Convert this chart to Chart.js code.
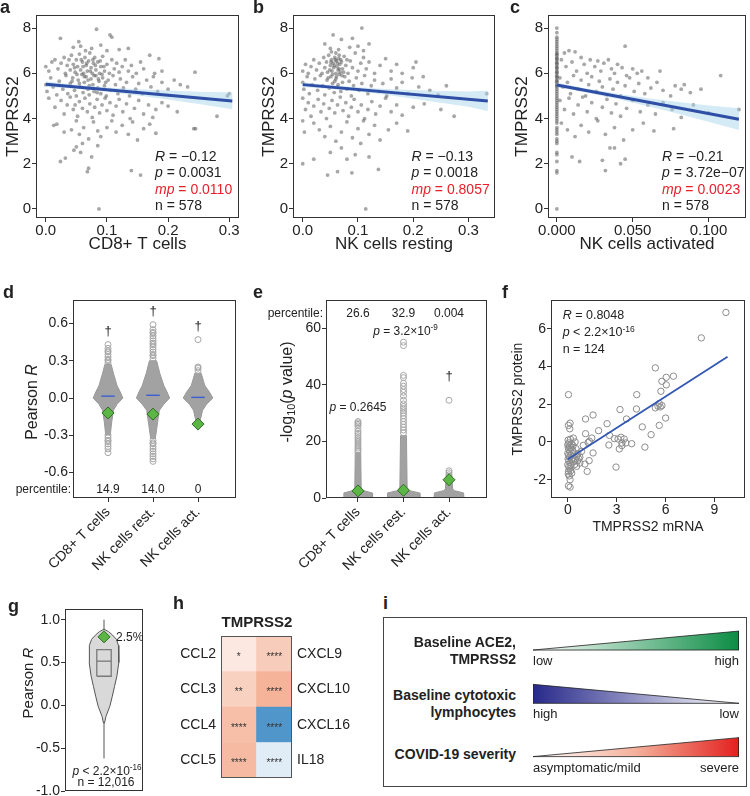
<!DOCTYPE html>
<html>
<head>
<meta charset="utf-8">
<title>TMPRSS2 and cytotoxic lymphocytes</title>
<script src="https://cdn.jsdelivr.net/npm/chart.js@4.4.1/dist/chart.umd.min.js"></script>
<style>
  html, body { margin: 0; padding: 0; }
  body { width: 750px; height: 796px; position: relative; overflow: hidden; background: #fff;
         font-family: "Liberation Sans", Arial, Helvetica, sans-serif; color: #222; }
  canvas { position: absolute; }
  .note { position: absolute; line-height: 1; white-space: nowrap; }
  .note sup, .note sub { font-size: 68%; position: relative; line-height: 0; vertical-align: baseline; }
  .note sup { top: -0.55em; }
  .note sub { top: 0.3em; }
  .boxI { position: absolute; left: 383px; top: 617px; width: 364px; height: 170px; border: 1px solid #444; box-sizing: border-box; }
</style>
</head>
<body>
<div class="boxI"></div>
<canvas id="chartA" width="245" height="256" style="left:0px;top:0px"></canvas>
<canvas id="chartB" width="245" height="256" style="left:256px;top:0px"></canvas>
<canvas id="chartC" width="241" height="256" style="left:509px;top:0px"></canvas>
<canvas id="chartD" width="245" height="292" style="left:0px;top:285px"></canvas>
<canvas id="chartE" width="245" height="292" style="left:250px;top:285px"></canvas>
<canvas id="chartF" width="245" height="251" style="left:505px;top:285px"></canvas>
<canvas id="chartG" width="150" height="208" style="left:0px;top:596px"></canvas>
<canvas id="chartH" width="200" height="175" style="left:160px;top:620px"></canvas>
<canvas id="chartI" width="206" height="170" style="left:533px;top:617px"></canvas>
<script>
// ==========================================================================
// DATA
// ==========================================================================

// a-c : TMPRSS2 vs immune cell fractions
const statR = ["−0.12", "−0.13", "−0.21"];
const statP = ["0.0031", "0.0018", "3.72e−07"];
const statMp = ["0.0110", "0.8057", "0.0023"];
const statN = ["578", "578", "578"];

const aPts = [
  [0.083,7.95],[0.024,7.55],[0.105,7.7],[0.108,7.6],[0.054,7.4],[0.057,7.2],[0.045,7.15],[0.075,7.1],[0.09,7.25],[0.12,7.05],[0.135,7.1],[0.065,7.0],[0.1,7.0],
  [0.01,6.5],[0.0,6.3],[0.005,6.1],[0.015,6.6],[0.02,6.2],[0.025,6.45],[0.03,6.7],[0.032,6.0],[0.035,6.35],[0.038,6.6],[0.04,6.15],[0.042,6.8],[0.045,6.4],[0.048,6.05],[0.05,6.6],[0.052,6.3],[0.055,6.85],[0.057,6.15],[0.06,6.5],[0.062,6.0],[0.064,6.7],[0.066,6.35],[0.068,6.1],[0.07,6.55],[0.072,6.9],[0.074,6.25],[0.076,6.0],[0.078,6.45],[0.08,6.7],[0.082,6.15],[0.085,6.5],[0.088,6.0],[0.09,6.3],[0.093,6.75],[0.096,6.1],[0.1,6.4],[0.104,6.0],[0.108,6.6],[0.112,6.2],[0.116,6.45],[0.12,6.05],[0.125,6.3],[0.13,6.6],[0.135,6.1],[0.14,6.35],[0.148,6.0],[0.155,6.5],[0.16,6.2],[0.17,6.8],[0.178,6.0],[0.185,6.65],[0.19,6.1],[0.244,6.05],
  [0.047,6.25],[0.051,5.95],[0.058,6.6],[0.061,6.3],[0.063,5.85],[0.067,6.45],[0.069,5.7],[0.073,6.1],[0.077,6.6],[0.079,5.9],[0.081,6.35],[0.086,5.75],[0.089,6.55],[0.092,5.95],[0.095,6.3],[0.098,5.6],[0.043,5.65],[0.055,5.55],[0.071,5.45],[0.084,5.15],
  [0.0,5.5],[0.002,5.2],[0.008,5.8],[0.012,5.4],[0.018,5.05],[0.022,5.65],[0.028,5.3],[0.033,5.9],[0.036,5.1],[0.04,5.55],[0.044,5.8],[0.047,5.25],[0.05,5.0],[0.053,5.7],[0.056,5.4],[0.059,5.95],[0.061,5.15],[0.063,5.6],[0.066,5.85],[0.069,5.3],[0.071,5.05],[0.074,5.75],[0.077,5.5],[0.079,5.2],[0.082,5.9],[0.085,5.35],[0.087,5.65],[0.09,5.1],[0.093,5.8],[0.096,5.45],[0.099,5.0],[0.102,5.7],[0.106,5.25],[0.11,5.9],[0.114,5.5],[0.118,5.1],[0.122,5.75],[0.127,5.35],[0.132,5.6],[0.137,5.0],[0.142,5.85],[0.147,5.3],[0.152,5.55],[0.158,5.1],[0.165,5.7],[0.172,5.4],[0.176,5.85],[0.183,5.2],[0.19,5.6],[0.2,5.3],[0.21,5.7],[0.22,5.5],[0.232,5.4],[0.3,5.1],[0.297,5.0],
  [0.005,4.9],[0.015,4.5],[0.025,4.8],[0.03,4.2],[0.035,4.6],[0.04,4.95],[0.045,4.4],[0.048,4.6],[0.052,4.1],[0.055,4.75],[0.06,4.45],[0.064,4.9],[0.068,4.3],[0.072,4.65],[0.076,4.05],[0.08,4.5],[0.084,4.85],[0.088,4.25],[0.092,4.6],[0.097,4.9],[0.1,4.35],[0.105,4.7],[0.11,4.15],[0.115,4.55],[0.12,4.85],[0.126,4.3],[0.132,4.65],[0.138,4.0],[0.145,4.45],[0.152,4.8],[0.16,4.2],[0.168,4.6],[0.175,4.05],[0.18,4.4],[0.19,4.7],[0.2,4.55],[0.215,4.3],[0.28,4.1],
  [0.013,3.7],[0.018,3.75],[0.03,3.4],[0.042,3.5],[0.05,3.9],[0.055,3.3],[0.062,3.6],[0.07,3.1],[0.078,3.85],[0.085,3.45],[0.09,3.2],[0.1,3.6],[0.108,3.9],[0.115,3.4],[0.125,3.7],[0.135,3.3],[0.142,3.85],[0.15,3.05],[0.16,3.55],[0.17,3.75],[0.18,3.35],[0.242,3.55],[0.245,3.55],
  [0.024,2.1],[0.032,2.25],[0.046,2.6],[0.05,2.75],[0.057,2.5],[0.06,2.9],[0.068,1.65],[0.07,1.8],[0.075,2.3],[0.085,2.8],[0.14,1.7],[0.155,1.5],[0.087,0.0]
];
const aFit = [[0, 5.52], [0.305, 4.78]];
const aCiX = [0, 0.05, 0.1, 0.15, 0.2, 0.25, 0.305];
const aCiLo = [5.40, 5.32, 5.19, 5.02, 4.84, 4.64, 4.41];
const aCiHi = [5.64, 5.48, 5.37, 5.30, 5.24, 5.18, 5.15];

const bPts = [
  [0.107,8.0],[0.055,7.7],[0.07,7.5],[0.09,7.55],[0.04,7.3],[0.1,7.2],[0.085,7.15],[0.12,7.3],[0.11,7.0],[0.05,7.1],[0.065,7.05],
  [0.0,6.1],[0.005,6.4],[0.01,6.0],[0.015,6.3],[0.02,6.6],[0.025,6.15],[0.03,6.45],[0.035,6.0],[0.038,6.7],[0.04,6.25],[0.043,6.5],[0.045,6.05],[0.047,6.8],[0.05,6.35],[0.052,6.6],[0.053,6.1],[0.055,6.45],[0.056,6.25],[0.058,6.7],[0.06,6.0],[0.061,6.55],[0.062,6.3],[0.064,6.15],[0.065,6.65],[0.067,6.4],[0.068,6.05],[0.07,6.5],[0.072,6.2],[0.075,6.75],[0.078,6.35],[0.082,6.0],[0.086,6.55],[0.09,6.25],[0.095,6.9],[0.1,6.1],[0.105,6.45],[0.11,6.7],[0.115,6.2],[0.12,6.5],[0.13,6.0],[0.14,6.35],[0.15,6.65],[0.16,6.1],[0.17,6.4],[0.18,6.0],[0.2,6.25],[0.205,6.5],[0.06,6.9],[0.052,6.95],[0.066,6.8],
  [0.049,6.15],[0.051,6.5],[0.054,5.95],[0.057,6.35],[0.059,6.6],[0.061,5.85],[0.063,6.45],[0.066,6.2],[0.069,6.6],[0.071,5.9],[0.046,5.8],[0.058,5.65],[0.064,5.5],[0.074,6.05],[0.08,6.6],
  [0.0,5.6],[0.002,5.3],[0.008,5.85],[0.012,5.1],[0.017,5.5],[0.022,5.75],[0.027,5.25],[0.032,5.9],[0.036,5.45],[0.04,5.05],[0.044,5.7],[0.048,5.35],[0.051,5.85],[0.054,5.55],[0.057,5.15],[0.06,5.75],[0.063,5.4],[0.066,5.95],[0.069,5.2],[0.072,5.6],[0.076,5.85],[0.08,5.3],[0.084,5.65],[0.088,5.0],[0.092,5.45],[0.097,5.8],[0.102,5.25],[0.107,5.55],[0.112,5.9],[0.118,5.1],[0.124,5.45],[0.13,5.7],[0.138,5.2],[0.145,5.55],[0.152,5.0],[0.16,5.75],[0.17,5.35],[0.18,5.6],[0.19,5.1],[0.198,5.8],[0.21,5.4],[0.218,5.85],[0.23,5.25],[0.26,5.45],[0.333,5.1],[0.245,5.05],
  [0.0,4.9],[0.005,4.4],[0.01,4.7],[0.015,4.1],[0.02,4.55],[0.028,4.85],[0.033,4.3],[0.038,4.65],[0.043,4.0],[0.048,4.45],[0.053,4.8],[0.058,4.25],[0.063,4.6],[0.068,4.95],[0.073,4.35],[0.078,4.7],[0.083,4.1],[0.088,4.5],[0.093,4.85],[0.1,4.3],[0.106,4.6],[0.112,4.0],[0.118,4.4],[0.125,4.75],[0.132,4.2],[0.14,4.55],[0.15,4.9],[0.16,4.3],[0.17,4.6],[0.18,4.15],[0.2,4.5],[0.22,4.65],[0.274,4.1],[0.25,4.4],
  [0.0,3.9],[0.003,3.4],[0.02,3.8],[0.03,3.5],[0.04,3.2],[0.05,3.65],[0.06,3.0],[0.07,3.4],[0.08,3.85],[0.09,3.15],[0.1,3.55],[0.11,3.9],[0.12,3.3],[0.13,3.7],[0.14,3.05],[0.155,3.5],[0.17,3.8],[0.19,3.45],
  [0.0,2.0],[0.02,2.2],[0.045,1.5],[0.05,2.5],[0.063,1.65],[0.07,2.7],[0.08,2.2],[0.089,1.6],[0.095,2.4],[0.105,2.9],[0.137,1.75],[0.12,2.3],[0.114,0.0]
];
const bFit = [[0, 5.50], [0.335, 4.78]];
const bCiX = [0, 0.05, 0.1, 0.15, 0.2, 0.25, 0.3, 0.335];
const bCiLo = [5.39, 5.31, 5.20, 5.05, 4.88, 4.70, 4.52, 4.33];
const bCiHi = [5.61, 5.47, 5.38, 5.31, 5.26, 5.22, 5.20, 5.23];

const cPts = [
  [0,8.0],[0,7.8],[0,7.6],[0,7.5],[0,7.4],[0,7.3],[0,7.2],[0,7.1],[0,7.0],[0,6.9],[0,6.85],[0,6.8],[0,6.7],[0,6.65],[0,6.6],[0,6.5],[0,6.45],[0,6.4],[0,6.3],[0,6.25],[0,6.2],[0,6.1],[0,6.05],[0,6.0],[0,5.9],[0,5.85],[0,5.8],[0,5.7],[0,5.65],[0,5.6],[0,5.5],[0,5.45],[0,5.4],[0,5.3],[0,5.2],[0,5.1],[0,5.0],[0,4.9],[0,4.8],[0,4.7],[0,4.6],[0,4.5],[0,4.4],[0,4.3],[0,4.2],[0,4.1],[0,4.0],[0,3.9],[0,3.8],[0,3.6],[0,3.5],[0,3.4],[0,3.3],[0,3.1],[0,3.0],[0,2.9],[0,2.5],[0,2.4],[0,2.1],[0,1.7],[0,1.6],[0,0.0],
  [0.045,7.2],[0.005,6.9],[0.008,7.0],[0.012,6.95],[0.003,6.6],[0.006,6.3],[0.01,6.5],[0.013,6.1],[0.016,6.7],[0.018,6.4],[0.02,6.0],[0.022,6.6],[0.025,6.3],[0.027,6.55],[0.029,6.1],[0.031,6.45],[0.034,6.6],[0.036,6.2],[0.038,6.0],[0.04,6.4],[0.043,6.25],[0.046,5.9],[0.05,6.2],[0.053,6.0],[0.056,6.1],[0.06,5.8],[0.068,6.1],[0.082,5.3],[0.108,5.9],[0.084,5.5],
  [0.002,5.8],[0.004,5.4],[0.007,5.6],[0.009,5.1],[0.011,5.9],[0.014,5.3],[0.016,5.7],[0.019,5.0],[0.021,5.5],[0.023,5.85],[0.026,5.2],[0.028,5.65],[0.03,5.4],[0.033,5.05],[0.035,5.75],[0.037,5.3],[0.04,5.6],[0.042,5.0],[0.045,5.45],[0.048,5.8],[0.051,5.2],[0.054,5.55],[0.058,5.1],[0.062,5.35],[0.066,5.6],[0.07,5.25],[0.075,5.0],[0.078,5.45],[0.088,5.15],[0.095,5.3],
  [0.002,4.8],[0.005,4.4],[0.008,4.9],[0.011,4.2],[0.014,4.6],[0.017,4.95],[0.02,4.3],[0.023,4.7],[0.026,4.0],[0.03,4.5],[0.033,4.85],[0.036,4.25],[0.039,4.65],[0.042,4.1],[0.046,4.45],[0.05,4.8],[0.055,4.3],[0.06,4.6],[0.065,4.2],[0.07,4.7],[0.076,4.4],[0.082,4.05],[0.09,4.6],[0.1,4.25],[0.12,4.4],
  [0.003,3.8],[0.007,3.5],[0.012,3.2],[0.016,3.7],[0.021,3.4],[0.027,3.9],[0.032,3.3],[0.038,3.6],[0.044,3.05],[0.05,3.5],[0.057,3.8],[0.064,3.45],[0.077,3.55],
  [0.01,2.3],[0.015,2.1],[0.03,2.15],[0.032,1.7],[0.035,2.7],[0.038,2.7],[0.042,2.0],[0.045,2.2]
];
const cFit = [[0, 5.48], [0.12, 3.97]];
const cCiX = [0, 0.02, 0.04, 0.06, 0.08, 0.1, 0.12];
const cCiLo = [5.38, 5.14, 4.86, 4.54, 4.21, 3.86, 3.49];
const cCiHi = [5.58, 5.32, 5.10, 4.90, 4.73, 4.58, 4.45];

// d-e : permutation distributions per cell type
const cellTypes = ["CD8+ T cells", "NK cells rest.", "NK cells act."];
const dObserved = [-0.12, -0.13, -0.21];
const dMedian = [0.015, 0.022, 0.005];
const dPercentile = ["14.9", "14.0", "0"];
const dCoreY = [
  [-0.3, -0.2, -0.1, -0.05, 0, 0.05, 0.1, 0.2, 0.27],
  [-0.33, -0.2, -0.1, -0.05, 0, 0.05, 0.1, 0.2, 0.3],
  [-0.18, -0.1, -0.05, 0, 0.05, 0.1, 0.2]
];
const dCoreW = [
  [0.05, 0.08, 0.12, 0.2, 0.33, 0.27, 0.2, 0.12, 0.07],
  [0.05, 0.1, 0.14, 0.24, 0.37, 0.31, 0.24, 0.15, 0.08],
  [0.05, 0.1, 0.19, 0.33, 0.25, 0.15, 0.07]
];
const dTails = [
  [0.28, 0.3, 0.31, 0.33, 0.35, 0.37, 0.38, 0.4, 0.43, -0.3, -0.32, -0.34, -0.35, -0.37, -0.39, -0.41, -0.44],
  [0.32, 0.34, 0.35, 0.37, 0.39, 0.41, 0.43, 0.44, 0.46, 0.48, 0.5, 0.52, 0.53, 0.55, 0.59, -0.34, -0.36, -0.37, -0.39, -0.41, -0.43, -0.45, -0.47, -0.49, -0.51],
  [0.47, 0.25, 0.24, 0.22, -0.19]
];

const eObserved = [2.51, 2.74, 6.43];
const ePercentile = ["26.6", "32.9", "0.004"];
const eCoreY = [
  [0, 1.8, 2.6, 3.5, 16],
  [0, 1.8, 2.6, 3.5, 22],
  [0, 1.8, 2.6, 3.2, 7]
];
const eCoreW = [
  [0.32, 0.31, 0.12, 0.07, 0.06],
  [0.36, 0.35, 0.13, 0.08, 0.065],
  [0.33, 0.32, 0.12, 0.08, 0.065]
];
const eTails = [
  [16.4, 17.0, 17.6, 18.3, 19.0, 19.8, 20.5, 21.2, 22.0, 22.8, 23.5, 24.5, 25.5, 26.0, 26.5, 27.0],
  [23, 24, 25, 26, 27, 28, 29, 30, 30.8, 31.6, 32.3, 33.2, 34.5, 36.0, 37.3, 38.3, 39.5, 40.5, 42.5, 43.3, 53.8, 55.0],
  [7.6, 8.2, 8.9, 9.6, 34.5]
];

// f : protein vs mRNA
const fPts = [
  [9.7,6.87],[8.19,5.52],[5.37,3.93],[6.48,3.49],[6.04,3.43],[5.77,3.22],[6.04,3.03],[5.71,2.69],[4.23,2.51],[4.21,1.75],[3.2,1.72],[3.6,1.22],[5.37,1.81],[5.53,1.9],[5.67,1.86],[5.77,1.93],[5.61,2.04],[6.0,1.27],[5.61,0.88],[4.57,0.8],[5.11,0.39],[4.73,-0.27],[3.92,-0.09],[3.26,0.25],[3.46,0.16],[3.32,-0.05],[3.08,0.16],[2.86,0.18],[3.56,-0.05],[3.16,-0.37],[3.32,-0.19],[2.96,-1.33],[2.41,0.97],[2.56,0.35],[2.52,-0.16],[1.89,0.6],[1.55,1.43],[1.09,1.22],[1.09,0.44],[1.47,0.21],[1.33,0.04],[1.25,-0.02],[0.95,-0.18],[1.55,-0.58],[1.19,-1.56],[1.31,-0.99],[1.05,-1.17],[0.74,-1.12],[0.54,-1.29],[0.04,2.51],[0.04,0.88],[0.14,1.0],[0.04,-2.32],[0.14,-2.39],[0.14,-2.0],[0.24,-1.65],[0.04,-1.56],[0.18,-1.52],[0.38,-0.58],[0.54,-0.76],[0.84,-0.5],[0.34,0.21],[0.24,-0.94],[0.62,-0.62],[0.74,-0.8],
  [0.02,0.1],[0.06,-0.05],[0.1,-0.2],[0.03,-0.3],[0.08,-0.4],[0.12,-0.5],[0.0,-0.6],[0.05,-0.7],[0.1,-0.8],[0.02,-0.9],[0.07,-1.0],[0.15,-1.1],[0.0,-1.2],[0.06,-1.3],[0.11,-1.4],[0.03,-1.7],[0.09,-1.8],[0.2,-0.3],[0.25,-0.1],[0.3,-0.45],[0.28,-0.85],[0.35,-1.05],[0.42,-1.2],[0.45,-0.95],[0.5,-0.35],[0.6,-1.0],[0.68,-0.9],[0.2,-1.25],[0.16,0.15],[0.12,0.7],[0.2,-0.7],[0.32,-0.2],[0.45,0.0],[0.0,-0.15]
];
const fFit = [[0, -0.92], [9.8, 4.52]];

// g : gene-wise protein/mRNA correlation
const gViolinY = [-0.21, -0.13, -0.01, 0.1, 0.22, 0.34, 0.5, 0.6, 0.7, 0.77, 0.82, 0.86, 0.89];
const gViolinW = [0.012, 0.05, 0.15, 0.21, 0.27, 0.33, 0.38, 0.38, 0.37, 0.32, 0.22, 0.12, 0];
const gBox = [0.34, 0.516, 0.65];
const gWhisker = [-0.62, 1.0];
const gObserved = 0.80;

// h : chemokine correlations with TMPRSS2
const hLeft = ["CCL2", "CCL3", "CCL4", "CCL5"];
const hRight = ["CXCL9", "CXCL10", "CXCL16", "IL18"];
const hLeftR = [0.10, 0.20, 0.28, 0.30];
const hRightR = [0.22, 0.33, -0.70, -0.12];
const hLeftSig = ["*", "**", "****", "****"];
const hRightSig = ["****", "****", "****", "****"];

// i : model schematic
const iRows = [["Baseline ACE2,", "TMPRSS2"], ["Baseline cytotoxic", "lymphocytes"], ["COVID-19 severity"]];
const iStart = [0, 1, 0];
const iEnd = [1, 0, 1];
const iLowLabel = ["low", "high", "asymptomatic/mild"];
const iHighLabel = ["high", "low", "severe"];

// ==========================================================================
// common settings
// ==========================================================================
const BLUE = "#2f4ea5";
const RED = "#e8202a";
const GREEN = "#5cb646";
const FONT = '"Liberation Sans", Arial, Helvetica, sans-serif';

Chart.defaults.font.family = FONT;
Chart.defaults.color = "#222";
Chart.defaults.animation = false;
Chart.defaults.responsive = false;
Chart.defaults.events = [];
Chart.defaults.plugins.legend.display = false;
Chart.defaults.plugins.tooltip.enabled = false;

// box around the plotting area
const frame = {
  id: "frame",
  afterDraw(chart, args, opts) {
    const { ctx, chartArea: a } = chart;
    ctx.save();
    ctx.strokeStyle = opts.color || "#333";
    ctx.lineWidth = 1;
    ctx.strokeRect(Math.round(a.left) + 0.5, Math.round(a.top) + 0.5,
      Math.round(a.right - a.left) - 1, Math.round(a.bottom - a.top) - 1);
    ctx.restore();
  }
};

function axis(o) {
  return {
    type: "linear",
    min: o.min,
    max: o.max,
    afterBuildTicks: (s) => { s.ticks = o.ticks.map((v) => ({ value: v })); },
    afterFit: (s) => {
      if (o.w != null) s.width = o.w;
      if (o.h != null) s.height = o.h;
    },
    ticks: {
      callback: o.fmt || ((v) => String(v)),
      font: { size: o.size || 14 },
      color: "#222",
      padding: o.tickPad != null ? o.tickPad : 1,
      minRotation: o.rot || 0,
      maxRotation: o.rot || 0,
      autoSkip: false
    },
    grid: { drawOnChartArea: false, drawTicks: true, tickLength: 4, color: "#333", lineWidth: 1 },
    border: { display: false },
    title: o.title
      ? { display: true, text: o.title, font: { size: o.tsize || 17 }, color: "#222", padding: o.tpad || { top: 0, bottom: 0 } }
      : { display: false }
  };
}

const xy = (arr) => arr.map(([x, y]) => ({ x, y }));

function outline(cx, ys, ws) {
  const left = ys.map((y, i) => ({ x: cx - ws[i], y }));
  const right = ys.map((y, i) => ({ x: cx + ws[i], y })).reverse();
  return left.concat(right);
}

function note(x, y, html, o = {}) {
  const el = document.createElement("div");
  el.className = "note";
  el.innerHTML = html;
  const size = o.size || 14;
  el.style.fontSize = size + "px";
  el.style.left = x + "px";
  el.style.top = (y - 0.85 * size) + "px";
  if (o.color) el.style.color = o.color;
  if (o.bold) el.style.fontWeight = "bold";
  const shift = o.align === "right" ? "-100%" : o.align === "center" ? "-50%" : "0";
  el.style.transform = "translateX(" + shift + ")";
  document.body.appendChild(el);
}

function vnote(cx, cy, html, size) {
  const el = document.createElement("div");
  el.className = "note";
  el.innerHTML = html;
  el.style.fontSize = size + "px";
  el.style.left = cx + "px";
  el.style.top = cy + "px";
  el.style.transform = "translate(-50%,-50%) rotate(-90deg)";
  document.body.appendChild(el);
}

// page position of a data point of a chart
function at(chart, xv, yv) {
  const c = chart.canvas;
  return [c.offsetLeft + chart.scales.x.getPixelForValue(xv), c.offsetTop + chart.scales.y.getPixelForValue(yv)];
}

// ==========================================================================
// a, b, c : scatter with regression line and confidence band
// ==========================================================================
function scatterPanel(id, pts, fit, ciX, ciLo, ciHi, cfg) {
  const band = ciX.map((x, i) => ({ x, y: ciHi[i] }))
    .concat(ciX.map((x, i) => ({ x, y: ciLo[i] })).reverse());
  return new Chart(document.getElementById(id), {
    type: "scatter",
    data: {
      datasets: [
        { type: "line", data: xy(fit), borderColor: BLUE, borderWidth: 3, pointRadius: 0 },
        { type: "line", data: band, fill: "shape", backgroundColor: "rgba(170,214,236,0.5)",
          borderColor: "rgba(0,0,0,0)", borderWidth: 0, pointRadius: 0 },
        { data: xy(pts), pointRadius: 1.9, backgroundColor: "rgba(80,80,80,0.5)", borderWidth: 0 }
      ]
    },
    options: {
      layout: { padding: { left: 0, top: 15, right: cfg.padR, bottom: 0 } },
      scales: {
        x: axis({ min: cfg.xr[0], max: cfg.xr[1], ticks: cfg.xTicks, fmt: cfg.xFmt, h: 38, size: 15,
          tickPad: 0, title: cfg.xTitle, tpad: { top: 0, bottom: 1 } }),
        y: axis({ min: -0.4, max: 8.58, ticks: [0, 2, 4, 6, 8], w: cfg.yW, size: 15,
          title: "TMPRSS2", tpad: { top: 3, bottom: 0 } })
      }
    },
    plugins: [frame]
  });
}

scatterPanel("chartA", aPts, aFit, aCiX, aCiLo, aCiHi, {
  xr: [-0.016, 0.316], xTicks: [0, 0.1, 0.2, 0.3], xFmt: (v) => v.toFixed(1),
  xTitle: "CD8+ T cells", yW: 36, padR: 6
});
scatterPanel("chartB", bPts, bFit, bCiX, bCiLo, bCiHi, {
  xr: [-0.0176, 0.348], xTicks: [0, 0.1, 0.2, 0.3], xFmt: (v) => v.toFixed(1),
  xTitle: "NK cells resting", yW: 37, padR: 6
});
scatterPanel("chartC", cPts, cFit, cCiX, cCiLo, cCiHi, {
  xr: [-0.00584, 0.1247], xTicks: [0, 0.05, 0.1], xFmt: (v) => v.toFixed(3),
  xTitle: "NK cells activated", yW: 39, padR: 1
});

[155, 411.5, 662].forEach((x, i) => {
  note(x, 160.5, "<i>R</i> = " + statR[i]);
  note(x, 177, "<i>p</i> = " + statP[i]);
  note(x, 193.5, "<i>mp</i> = " + statMp[i], { color: RED });
  note(x, 210, "n = " + statN[i]);
});

// ==========================================================================
// d, e : distributions over random gene sets
// ==========================================================================
function swarmPanel(id, cfg) {
  const datasets = [
    { data: cfg.observed.map((y, i) => ({ x: i + 1, y })), pointStyle: "rectRot", pointRadius: 6,
      backgroundColor: GREEN, borderColor: "#2f6a22", borderWidth: 1 }
  ];
  (cfg.median || []).forEach((m, i) => {
    datasets.push({ type: "line", data: [{ x: i + 0.85, y: m }, { x: i + 1.15, y: m }],
      borderColor: "#3b5fd0", borderWidth: 1.4, pointRadius: 0 });
  });
  cfg.tails.forEach((t, i) => {
    datasets.push({ data: t.map((y) => ({ x: i + 1, y })), pointRadius: 3,
      backgroundColor: "rgba(255,255,255,0)", borderColor: "#a6a6a6", borderWidth: 1 });
  });
  cfg.coreY.forEach((ys, i) => {
    datasets.push({ type: "line", data: outline(i + 1, ys, cfg.coreW[i]), fill: "shape",
      backgroundColor: "#a2a2a2", borderColor: "#999", borderWidth: 1, pointRadius: 0 });
  });
  return new Chart(document.getElementById(id), {
    type: "scatter",
    data: { datasets },
    options: {
      layout: { padding: { left: 0, top: 15, right: cfg.padR, bottom: 0 } },
      scales: {
        x: axis({ min: cfg.xr[0], max: cfg.xr[1], ticks: [1, 2, 3], fmt: (v) => cellTypes[v - 1],
          h: 79, rot: 45, size: 14, tickPad: 2 }),
        y: axis({ min: cfg.yr[0], max: cfg.yr[1], ticks: cfg.yTicks, fmt: cfg.yFmt, w: cfg.yW, size: 14 })
      }
    },
    plugins: [frame]
  });
}

const chartD = swarmPanel("chartD", {
  observed: dObserved, median: dMedian, tails: dTails, coreY: dCoreY, coreW: dCoreW,
  xr: [0.222, 3.844], yr: [-0.805, 0.789], yTicks: [-0.6, -0.3, 0, 0.3, 0.6],
  yFmt: (v) => v.toFixed(1), yW: 73, padR: 9
});
vnote(32, 402, "Pearson <i>R</i>", 16);
note(71, 493.3, "percentile:", { size: 12, align: "right" });
dPercentile.forEach((t, i) => {
  const [x] = at(chartD, i + 1, 0);
  note(x, 493.3, t, { size: 12, align: "center" });
  const top = Math.max(...dTails[i]);
  const [, y] = at(chartD, i + 1, top + 0.075);
  note(x, y, "†", { size: 13, align: "center" });
});

const chartE = swarmPanel("chartE", {
  observed: eObserved, tails: eTails, coreY: eCoreY, coreW: eCoreW,
  xr: [0.297, 3.835], yr: [0, 69.9], yTicks: [0, 20, 40, 60],
  yFmt: (v) => String(v), yW: 76, padR: 8
});
vnote(287, 392, "-log<sub>10</sub>(<i>p</i> value)", 16);
note(323, 316.7, "percentile:", { size: 12, align: "right" });
ePercentile.forEach((t, i) => {
  const [x] = at(chartE, i + 1, 0);
  note(x, 316.7, t, { size: 12, align: "center" });
});
{
  const [x1, y1] = at(chartE, 1, Math.max(...eTails[0]) + 3.6);
  note(x1, y1, "<i>p</i> = 0.2645", { size: 12, align: "center" });
  const [x2, y2] = at(chartE, 2, Math.max(...eTails[1]) + 2.6);
  note(x2 + 2, y2, "<i>p</i> = 3.2×10<sup>-9</sup>", { size: 12, align: "center" });
  const [x3, y3] = at(chartE, 3, Math.max(...eTails[2]) + 7);
  note(x3, y3, "†", { size: 13, align: "center" });
}

// ==========================================================================
// f : TMPRSS2 protein vs mRNA
// ==========================================================================
new Chart(document.getElementById("chartF"), {
  type: "scatter",
  data: {
    datasets: [
      { type: "line", data: xy(fFit), borderColor: "#3358b4", borderWidth: 1.8, pointRadius: 0 },
      { data: xy(fPts), pointRadius: 3.2, backgroundColor: "rgba(255,255,255,0)", borderColor: "#8c8c8c", borderWidth: 1 }
    ]
  },
  options: {
    layout: { padding: { left: 0, top: 15, right: 2, bottom: 0 } },
    scales: {
      x: axis({ min: -1.03, max: 10.87, ticks: [0, 3, 6, 9], h: 38, size: 14, tickPad: 0,
        title: "TMPRSS2 mRNA", tsize: 14, tpad: { top: 0, bottom: 0 } }),
      y: axis({ min: -2.97, max: 7.53, ticks: [-2, 0, 2, 4, 6], w: 46, size: 14,
        title: "TMPRSS2 protein", tsize: 14, tpad: { top: 5, bottom: 0 } })
    }
  },
  plugins: [frame]
});
note(562.7, 320, "<i>R</i> = 0.8048", { size: 12.5 });
note(562.7, 337, "<i>p</i> &lt; 2.2×10<sup>-16</sup>", { size: 12.5 });
note(562.7, 353.5, "n = 124", { size: 12.5 });

// ==========================================================================
// g : violin of gene-wise correlations
// ==========================================================================
const gBoxW = 0.185;
new Chart(document.getElementById("chartG"), {
  type: "scatter",
  data: {
    datasets: [
      { data: [{ x: 0, y: gObserved }], pointStyle: "rectRot", pointRadius: 6,
        backgroundColor: GREEN, borderColor: "#2f6a22", borderWidth: 1 },
      { type: "line", data: [{ x: -gBoxW, y: gBox[1] }, { x: gBoxW, y: gBox[1] }],
        borderColor: "#7a7a7a", borderWidth: 1.3, pointRadius: 0 },
      { type: "line", data: [{ x: -gBoxW, y: gBox[0] }, { x: -gBoxW, y: gBox[2] }, { x: gBoxW, y: gBox[2] },
        { x: gBoxW, y: gBox[0] }, { x: -gBoxW, y: gBox[0] }],
        borderColor: "#7a7a7a", borderWidth: 1.3, pointRadius: 0 },
      { type: "line", data: outline(0, gViolinY, gViolinW), fill: "shape",
        backgroundColor: "#d9d9d9", borderColor: "#555", borderWidth: 1, pointRadius: 0 },
      { type: "line", data: [{ x: 0, y: gWhisker[0] }, { x: 0, y: gWhisker[1] }],
        borderColor: "#555", borderWidth: 1, pointRadius: 0 }
    ]
  },
  options: {
    layout: { padding: { left: 0, top: 13, right: 4, bottom: 13 } },
    scales: {
      x: { type: "linear", min: -1, max: 1, display: false },
      y: axis({ min: -1, max: 1.125, ticks: [-1, -0.5, 0, 0.5, 1], fmt: (v) => v.toFixed(1), w: 65, size: 14 })
    }
  },
  plugins: [frame]
});
vnote(27, 683, "Pearson <i>R</i>", 15);
note(116, 641, "2.5%", { size: 12 });
note(107, 775, "<i>p</i> &lt; 2.2×10<sup>-16</sup>", { size: 12, align: "center" });
note(106, 786, "n = 12,016", { size: 12, align: "center" });

// ==========================================================================
// h : heatmap
// ==========================================================================
function heat(r) {
  const t = Math.min(Math.abs(r) / (r >= 0 ? 0.5 : 0.8), 1);
  const end = r >= 0 ? [240, 140, 100] : [55, 135, 195];
  const c = end.map((v) => Math.round(255 + (v - 255) * t));
  return "rgb(" + c.join(",") + ")";
}

const cellStars = {
  id: "cellStars",
  afterDatasetsDraw(chart) {
    const { ctx } = chart;
    ctx.save();
    ctx.font = "10px " + FONT;
    ctx.fillStyle = "#333";
    ctx.textAlign = "center";
    ctx.textBaseline = "middle";
    chart.data.datasets.forEach((ds, i) => {
      chart.getDatasetMeta(i).data.forEach((bar, j) => {
        ctx.fillText(ds.stars[j], bar.x, (bar.y + bar.base) / 2 + 3);
      });
    });
    ctx.restore();
  }
};

const hRowsBottomUp = [3, 2, 1, 0];
function rowAxis(labels, position, width) {
  return {
    type: "linear", min: 0, max: 4, position, stacked: position === "left",
    afterBuildTicks: (s) => { s.ticks = [0.5, 1.5, 2.5, 3.5].map((v) => ({ value: v })); },
    afterFit: (s) => { s.width = width; },
    ticks: { callback: (v) => labels[3 - Math.floor(v)], font: { size: 14 }, color: "#222", padding: 5 },
    grid: { display: false, drawTicks: false },
    border: { display: false }
  };
}
new Chart(document.getElementById("chartH"), {
  type: "bar",
  data: {
    labels: ["left", "right"],
    datasets: hRowsBottomUp.map((r) => ({
      data: [1, 1],
      stars: [hLeftSig[r], hRightSig[r]],
      backgroundColor: [heat(hLeftR[r]), heat(hRightR[r])],
      borderWidth: 0,
      barPercentage: 1,
      categoryPercentage: 1
    }))
  },
  options: {
    layout: { padding: { left: 0, right: 0, top: 16, bottom: 17 } },
    scales: {
      x: { stacked: true, display: false },
      y: rowAxis(hLeft, "left", 61),
      y2: rowAxis(hRight, "right", 68)
    },
    plugins: { frame: { color: "#555" } }
  },
  plugins: [frame, cellStars]
});
note(257, 626.7, "TMPRSS2", { size: 15, bold: true, align: "center" });

// ==========================================================================
// i : schematic with gradient wedges
// ==========================================================================
const iStops = [["#ffffff", "#0c8c44"], ["#27298a", "#ffffff"], ["#ffffff", "#f4b09a", "#e3201e"]];
const iTH = 0.356;
function gradientFill(stops) {
  return (ctx) => {
    const a = ctx.chart.chartArea;
    if (!a) return "rgba(0,0,0,0)";
    const g = ctx.chart.ctx.createLinearGradient(a.left, 0, a.right, 0);
    stops.forEach((c, j) => g.addColorStop(j / (stops.length - 1), c));
    return g;
  };
}
const chartI = new Chart(document.getElementById("chartI"), {
  type: "scatter",
  data: {
    datasets: iRows.map((_, k) => ({
      type: "line",
      data: [
        { x: 0, y: k }, { x: 0, y: k - iStart[k] * iTH }, { x: 1, y: k - iEnd[k] * iTH },
        { x: 1, y: k }, { x: 0, y: k }
      ],
      fill: "shape",
      backgroundColor: gradientFill(iStops[k]),
      borderColor: "#222",
      borderWidth: 0.8,
      pointRadius: 0
    }))
  },
  options: {
    layout: { padding: 0 },
    scales: {
      x: { type: "linear", min: 0, max: 1, display: false },
      y: { type: "linear", min: -0.62, max: 2.57, reverse: true, display: false }
    }
  }
});
iRows.forEach((lines, k) => {
  const [x0, base] = at(chartI, 0, k);
  const [x1] = at(chartI, 1, k);
  if (lines.length === 2) {
    note(516, base - 3, lines[0], { size: 14, bold: true, align: "right" });
    note(516, base + 13.5, lines[1], { size: 14, bold: true, align: "right" });
  } else {
    note(516, base + 2.5, lines[0], { size: 14, bold: true, align: "right" });
  }
  note(x0, base + 15, iLowLabel[k], { size: 13 });
  note(x1, base + 15, iHighLabel[k], { size: 13, align: "right" });
});

// panel letters
[["a", 0, 13.3], ["b", 253, 13.3], ["c", 510, 13.3], ["d", 3, 298], ["e", 253, 298], ["f", 502, 298],
 ["g", 8, 612.7], ["h", 173, 609.3], ["i", 383, 609.3]].forEach(([t, x, y]) => {
  note(x, y, t, { size: 18, bold: true });
});
</script>
</body>
</html>
